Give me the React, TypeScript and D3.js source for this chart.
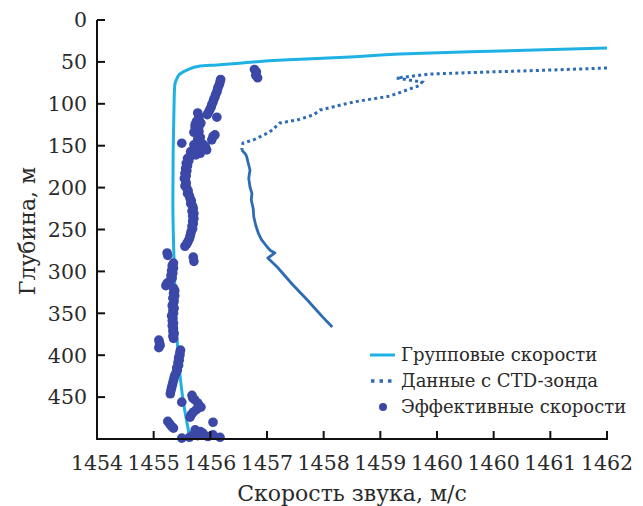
import React from "react";
import * as d3 from "d3";

// Depth (m) and sound speed (m/s) pairs
const groupVelocity: [number, number][] = [
  [33.4, 1462.0], [37, 1460.32], [40.6, 1458.75], [44.2, 1457.97], [47.7, 1456.92],
  [53.7, 1455.88], [54.9, 1455.62], [59.7, 1455.41], [64.4, 1455.3], [70.4, 1455.25],
  [77.6, 1455.22], [95.5, 1455.21], [214.8, 1455.19], [313.8, 1455.22], [373.5, 1455.25],
  [453.5, 1455.35], [500, 1455.46],
];

// CTD profile: upper (thermocline) samples and deep samples
const ctdUpper: [number, number][] = [
  [57.3, 1462.0], [59.7, 1461.11], [62, 1460.16], [64.5, 1459.22], [69.2, 1458.7],
  [74, 1459.1], [78.5, 1459.05], [83.5, 1458.86], [90.7, 1458.6], [94.3, 1458.31],
  [97.9, 1458.02], [107.4, 1457.5], [113.4, 1457.39], [119.3, 1457.14], [122.9, 1456.87],
  [133.7, 1456.71], [143.2, 1456.45], [146.8, 1456.29], [155.1, 1456.27],
];
const ctdDeep: [number, number][] = [
  [155.1, 1456.27], [160, 1456.33], [163.5, 1456.35], [170, 1456.37], [179, 1456.4],
  [189, 1456.38], [199.3, 1456.4], [207, 1456.43], [214.8, 1456.42], [225, 1456.45],
  [235.1, 1456.46], [245, 1456.49], [254.2, 1456.53], [262, 1456.58], [270.9, 1456.67],
  [275, 1456.72], [278, 1456.79], [284, 1456.68], [295, 1456.83], [305.5, 1456.95],
  [315, 1457.06], [324.6, 1457.18], [335, 1457.31], [346.1, 1457.44], [356, 1457.56],
  [366.3, 1457.69],
];

const effectiveVelocity: [number, number][] = [
  [59, 1456.47], [62, 1456.5], [66, 1456.49], [69, 1456.52],
  [71, 1455.94], [74, 1455.93], [77, 1455.92], [80, 1455.9], [83, 1455.89], [86, 1455.88],
  [89, 1455.86], [92, 1455.85], [95, 1455.83], [98, 1455.82], [101, 1455.8], [104, 1455.79],
  [107, 1455.77], [110, 1455.75], [113, 1455.73],
  [111, 1455.58], [115, 1455.6], [116, 1455.88], [119, 1455.6], [121, 1455.56], [123, 1455.63],
  [125, 1455.54], [127, 1455.6], [128, 1455.54], [131, 1455.55], [133, 1455.6], [134, 1455.52],
  [137, 1455.85], [139, 1455.82], [140, 1455.62], [142, 1455.58], [143, 1455.8], [146, 1455.6],
  [147, 1455.33], [148, 1455.66], [149, 1455.52], [151, 1455.7], [152, 1455.62], [154, 1455.56],
  [155, 1455.72], [157, 1455.47], [159, 1455.62], [161, 1455.55], [163, 1455.46], [165, 1455.42],
  [168, 1455.44], [171, 1455.4], [174, 1455.42], [177, 1455.39], [180, 1455.41], [183, 1455.38],
  [186, 1455.4], [189, 1455.37], [192, 1455.39], [195, 1455.4], [198, 1455.38], [201, 1455.41],
  [204, 1455.43], [207, 1455.42], [210, 1455.45], [213, 1455.46], [216, 1455.48], [219, 1455.47],
  [222, 1455.5], [225, 1455.51], [228, 1455.49], [231, 1455.52], [234, 1455.5], [237, 1455.52],
  [240, 1455.5], [243, 1455.51], [246, 1455.49], [249, 1455.5], [252, 1455.48], [255, 1455.47],
  [258, 1455.46], [261, 1455.45], [264, 1455.43], [267, 1455.41], [270, 1455.38],
  [278, 1455.1], [281, 1455.11], [283, 1455.51], [288, 1455.52],
  [290, 1455.2], [293, 1455.18], [296, 1455.2], [299, 1455.17], [302, 1455.19], [305, 1455.16],
  [308, 1455.18], [311, 1455.15], [314, 1455.1], [317, 1455.08], [320, 1455.2], [323, 1455.22],
  [326, 1455.2], [329, 1455.22], [332, 1455.19], [335, 1455.21], [338, 1455.2], [341, 1455.18],
  [344, 1455.21], [347, 1455.19], [350, 1455.2], [353, 1455.17], [356, 1455.19], [359, 1455.18],
  [362, 1455.2], [365, 1455.18], [368, 1455.2], [371, 1455.19], [374, 1455.21], [377, 1455.19],
  [380, 1455.2],
  [382, 1454.97], [385, 1454.98], [388, 1454.99], [391, 1454.97],
  [394, 1455.31], [397, 1455.3], [400, 1455.3], [403, 1455.28], [406, 1455.29], [409, 1455.27],
  [412, 1455.28], [415, 1455.25], [418, 1455.26], [421, 1455.24], [424, 1455.22], [427, 1455.21],
  [430, 1455.2], [433, 1455.19], [436, 1455.18], [439, 1455.17], [442, 1455.16], [446, 1455.15],
  [448, 1455.49], [451, 1455.5], [453, 1455.53], [456, 1455.33], [457, 1455.58], [460, 1455.6],
  [462, 1455.63], [465, 1455.56], [468, 1455.51], [471, 1455.48], [474, 1455.46],
  [479, 1455.11], [482, 1455.14], [485, 1455.17], [487, 1455.2], [480, 1455.82], [489, 1455.54],
  [491, 1455.62], [493, 1455.66], [495, 1455.82], [495, 1455.51], [497, 1455.74], [498, 1455.93],
  [498, 1455.45], [499, 1455.33], [496, 1455.58],
];

const xTickLabels = ["1454", "1455", "1456", "1457", "1458", "1459", "1460", "1460", "1461", "1462"];
const yTickValues = [0, 50, 100, 150, 200, 250, 300, 350, 400, 450];

const legendItems = ["Групповые скорости", "Данные с CTD-зонда", "Эффективные скорости"];

const W = 643;
const H = 506;
const FONT = "DejaVu Serif";

const COLOR_GROUP = "#1fb1e3";
const COLOR_CTD = "#2d6cb4";
const COLOR_EFF = "#3c48a7";
const TEXT = "#2a2a2a";

export default function App() {
  const x = d3.scaleLinear().domain([1454, 1462]).range([97, 607]);
  const y = d3.scaleLinear().domain([0, 500]).range([20, 439]);

  const xTickValues = xTickLabels.map((_, i) => 1454 + (i * 8) / (xTickLabels.length - 1));

  const line = d3
    .line<[number, number]>()
    .x((d) => x(d[1]))
    .y((d) => y(d[0]));
  const smoothLine = d3
    .line<[number, number]>()
    .x((d) => x(d[1]))
    .y((d) => y(d[0]))
    .curve(d3.curveMonotoneY);

  const [x0, x1] = x.range();
  const [y0, y1] = y.range();

  return (
    <svg
      width={W}
      height={H}
      fontFamily={FONT}
      style={{ position: "absolute", left: 0, top: 0, background: "#fff" }}
    >
      {/* series */}
      <path d={smoothLine(groupVelocity) ?? ""} fill="none" stroke={COLOR_GROUP} strokeWidth={3} />
      <path
        d={line(ctdUpper) ?? ""}
        fill="none"
        stroke={COLOR_CTD}
        strokeWidth={3}
        strokeDasharray="3 3.2"
      />
      <path d={line(ctdDeep) ?? ""} fill="none" stroke={COLOR_CTD} strokeWidth={2.8} strokeLinejoin="round" />
      {effectiveVelocity.map((d, i) => (
        <circle key={i} cx={x(d[1])} cy={y(d[0])} r={4.8} fill={COLOR_EFF} />
      ))}

      {/* axes */}
      <line x1={x0} x2={x0} y1={y0} y2={y1} stroke="#111" strokeWidth={2} />
      <line x1={x0 - 1} x2={x1 + 1} y1={y1} y2={y1} stroke="#111" strokeWidth={2} />
      {yTickValues.map((v) => (
        <g key={v}>
          <line x1={x0} x2={x0 + 8} y1={y(v)} y2={y(v)} stroke="#111" strokeWidth={2} />
          <text x={x0 - 10} y={y(v)} dy="0.36em" textAnchor="end" fontSize={20.5} fill={TEXT}>
            {v}
          </text>
        </g>
      ))}
      {xTickValues.map((v, i) => (
        <g key={i}>
          <line x1={x(v)} x2={x(v)} y1={y1} y2={y1 - 8} stroke="#111" strokeWidth={2} />
          <text x={x(v)} y={470} textAnchor="middle" fontSize={20.5} fill={TEXT}>
            {xTickLabels[i]}
          </text>
        </g>
      ))}

      {/* axis titles */}
      <text x={352} y={501} textAnchor="middle" fontSize={22} fill={TEXT}>
        Скорость звука, м/с
      </text>
      <text transform="translate(35, 231) rotate(-90)" textAnchor="middle" fontSize={22} fill={TEXT}>
        Глубина, м
      </text>

      {/* legend */}
      <g>
        <line x1={370} x2={395} y1={355} y2={355} stroke={COLOR_GROUP} strokeWidth={3} />
        <line x1={371} x2={396} y1={381} y2={381} stroke={COLOR_CTD} strokeWidth={3.5} strokeDasharray="3.5 5" />
        <circle cx={383} cy={407} r={4} fill={COLOR_EFF} />
        {legendItems.map((t, i) => (
          <text key={t} x={401} y={355 + i * 26} dy="0.35em" fontSize={18} fill={TEXT}>
            {t}
          </text>
        ))}
      </g>
    </svg>
  );
}
